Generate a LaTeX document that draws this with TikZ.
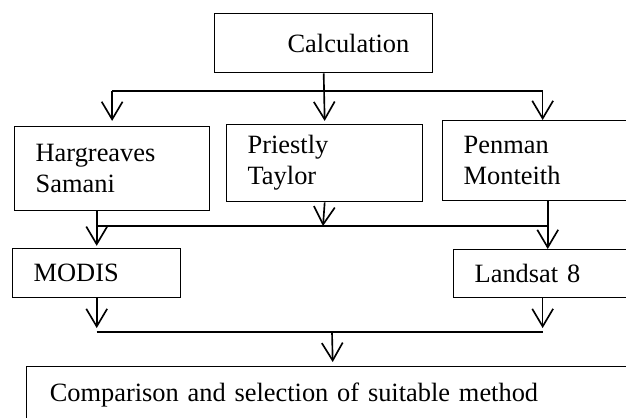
\documentclass[tikz,border=0pt]{standalone}
\usepackage{fontspec}
\setmainfont{Liberation Serif}
\usetikzlibrary{arrows.meta}
\begin{document}
\begin{tikzpicture}[x=0.4545pt, y=-0.4545pt,
  box/.style={draw, shape=rectangle, line width=0.6pt, anchor=north west, align=left,
    inner xsep=9.55pt, inner ysep=0pt, font=\fontsize{12}{14.1}\selectfont},
  arr/.style={line width=0.75pt, -{Straight Barb[length=8pt, width=9.5pt]}},
  link/.style={line width=0.6pt}]
\useasboundingbox (0,0) rectangle (626,417);
\draw (214, 13) node[box, text width=80pt, minimum width=99.1pt, minimum height=26.8pt] (calc) {\hspace*{23.6pt}Calculation};
\draw (14, 126) node[box, text width=69.5pt, minimum width=88.6pt, minimum height=38.2pt] (hs) {Hargreaves\\Samani};
\draw (226, 124) node[box, text width=70pt, minimum width=89.1pt, minimum height=35pt] (pt) {Priestly\\Taylor};
\draw (442, 120) node[box, text width=71.8pt, minimum width=90.9pt, minimum height=36.4pt] (pm) {Penman\\Monteith};
\draw (12, 248) node[box, text width=57.3pt, minimum width=76.4pt, minimum height=22.3pt] (modis) {MODIS};
\draw (453, 249) node[box, text width=66.4pt, minimum width=85.4pt, minimum height=21.8pt] (landsat) {Landsat 8};
\draw (26, 366) node[box, inner xsep=10.5pt, text width=257.2pt, minimum width=278.2pt, minimum height=25.5pt] (comp) {Comparison and selection of suitable method};
% first level
\coordinate (c1) at (323, 91);
\draw[link] (hs.north |- c1) -- (pm.north |- c1);
\draw[arr] (calc.south) -- ([yshift=1.4pt]pt.north);
\draw[arr] (hs.north |- c1) -- ([yshift=2.3pt]hs.north);
\draw[arr] (pm.north |- c1) -- (pm.north);
% second level
\coordinate (c2) at (323, 226);
\draw[link] (modis.north |- c2) -- (landsat.north |- c2);
\draw[arr] (modis.north |- hs.south) -- ([yshift=1pt]modis.north);
\draw[arr] (pt.south) -- (c2);
\draw[arr] (landsat.north |- pm.south) -- (landsat.north);
% third level
\coordinate (c3) at (332, 332);
\coordinate (ls) at ([xshift=-2.3pt]landsat.south);
\draw[link] (modis.south |- c3) -- (ls |- c3);
\draw[arr] (modis.south) -- ([yshift=1.8pt]modis.south |- c3);
\draw[arr] (ls) -- ([yshift=1.8pt]ls |- c3);
\draw[arr] (c3) -- ([yshift=1.8pt]comp.north);
\end{tikzpicture}
\end{document}
